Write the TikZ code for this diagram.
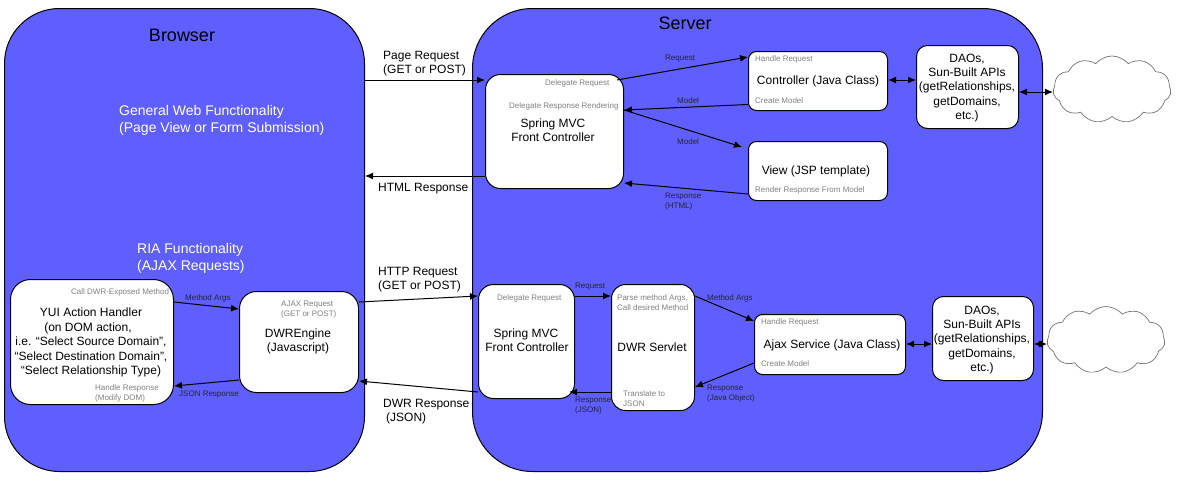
\documentclass[tikz,border=0pt]{standalone}
\usepackage{fontspec}
\setmainfont{Liberation Sans}
\usetikzlibrary{arrows.meta,shapes.symbols}
\definecolor{bluefill}{HTML}{5F5FFF}
\definecolor{notegray}{HTML}{808080}
\newcommand{\fs}[1]{\fontsize{#1}{#1}\selectfont}
\tikzset{
  x=1pt,y=-1pt,
  panel/.style={draw=black,line width=1pt,fill=bluefill,rounded corners=#1},
  boxw/.style={draw=black,line width=1pt,fill=white,rounded corners=#1},
  conn/.style={draw=black,line width=1pt,-{Latex[length=8pt,width=7pt]}},
  conn2/.style={draw=black,line width=1pt,{Latex[length=8pt,width=7pt]}-{Latex[length=8pt,width=7pt]}},
  title/.style={font=\fs{18},inner sep=0pt,text=black,text height=12.9pt,text depth=0pt},
  main/.style={font=\fs{12},inner sep=0pt,align=center,text=black,text height=8.6pt,text depth=0pt},
  whitetext/.style={font=\fs{14},inner sep=0pt,text=white,text height=10pt,text depth=0pt,anchor=west},
  note/.style={font=\fs{8},inner sep=0pt,text=notegray,text height=5.8pt,text depth=0pt,anchor=west},
  lab/.style={font=\fs{8},inner sep=0pt,text=black!85,text height=5.8pt,text depth=0pt,anchor=west},
  big/.style={font=\fs{12},inner sep=0pt,text=black,text height=8.6pt,text depth=0pt,anchor=west},
  cloudy/.style={cloud,cloud puffs=11,cloud puff arc=100,aspect=1.75,draw=black!55,line width=0.7pt,fill=white,inner sep=0pt},
}
\newcommand{\bx}[6]{\node[boxw=#6,minimum width=#4-#2,minimum height=#5-#3,inner sep=0pt,anchor=north west] (#1) at (#2,#3) {};}
\begin{document}
\begin{tikzpicture}
\useasboundingbox (0,0) rectangle (1177,479);
\fill[white] (0,0) rectangle (1177,479);
% panels
\node[panel=55pt,minimum width=360,minimum height=463,inner sep=0pt,anchor=north west] (browser) at (4,8) {};
\node[panel=60pt,minimum width=570,minimum height=463,inner sep=0pt,anchor=north west] (server) at (472,8) {};
\node[title] (tbrowser) at (182,35) {Browser};
\node[title] (tserver) at (685,23) {Server};
% clouds
\node[cloudy,minimum width=118,minimum height=67] (cloud1) at (1112,89.5) {};
\node[cloudy,minimum width=118,minimum height=67] (cloud2) at (1106,340) {};
% boxes
\bx{fc}{485}{74}{623}{188}{15pt}
\bx{ctl}{748}{51}{887}{110}{8pt}
\bx{view}{748}{141}{887}{200}{8pt}
\bx{dao1}{916}{45}{1018}{128}{11pt}
\bx{yui}{10}{279}{173}{404}{20pt}
\bx{eng}{239}{291}{358}{392}{17pt}
\bx{fc2}{478}{284}{574}{398}{15pt}
\bx{srv}{611}{284}{694}{410}{14pt}
\bx{ajax}{754}{314}{905}{374}{8pt}
\bx{dao2}{932}{296}{1033}{380}{11pt}
% free-text headings
\node[whitetext] (h1) at (119,110) {General Web Functionality};
\node[whitetext] (h2) at (119,127) {(Page View or Form Submission)};
\node[whitetext] (h3) at (137,248) {RIA Functionality};
\node[whitetext] (h4) at (137,265) {(AJAX Requests)};
% box texts
\node[main] (tfc1) at (553,123) {Spring MVC};
\node[main] (tfc2) at (553,137) {Front Controller};
\node[main] (tctl) at (818,80) {Controller (Java Class)};
\node[main] (tview) at (816,170) {View (JSP template)};
\node[main] at (967,58) {DAOs,};
\node[main] at (967,72) {Sun-Built APIs};
\node[main] at (967,86) {(getRelationships,};
\node[main] at (967,101) {getDomains,};
\node[main] at (967,115) {etc.)};
\node[main] at (91,312) {YUI Action Handler};
\node[main] at (88,327) {(on DOM action,};
\node[main] at (91,341) {i.e. “Select Source Domain”,};
\node[main] at (91,356) {“Select Destination Domain”,};
\node[main] at (91,370) {“Select Relationship Type)};
\node[main] at (298,333) {DWREngine};
\node[main] at (298,347) {(Javascript)};
\node[main] at (526,333) {Spring MVC};
\node[main] at (527,347) {Front Controller};
\node[main] at (652,347) {DWR Servlet};
\node[main] at (832,344) {Ajax Service (Java Class)};
\node[main] at (982,310) {DAOs,};
\node[main] at (982,324) {Sun-Built APIs};
\node[main] at (982,338) {(getRelationships,};
\node[main] at (982,353) {getDomains,};
\node[main] at (982,367) {etc.)};
% grey notes
\node[note] at (545,83) {Delegate Request};
\node[note] at (509,106) {Delegate Response Rendering};
\node[note] at (755,59) {Handle Request};
\node[note] at (755,101) {Create Model};
\node[note] at (755,190) {Render Response From Model};
\node[note] at (71,292) {Call DWR-Exposed Method};
\node[note] at (95,388) {Handle Response};
\node[note] at (95,398) {(Modify DOM)};
\node[note] at (281,304) {AJAX Request};
\node[note] at (281,314) {(GET or POST)};
\node[note] at (497,298) {Delegate Request};
\node[note] at (617,298) {Parse method Args,};
\node[note] at (617,308) {Call desired Method};
\node[note] at (623,394) {Translate to};
\node[note] at (623,404) {JSON};
\node[note] at (761,322) {Handle Request};
\node[note] at (761,364) {Create Model};
% connectors
\draw[conn] (browser.east |- 0,80) -- (fc.west |- 0,80);
\node[big] at (383,55) {Page Request};
\node[big] at (383,69) {(GET or POST)};
\draw[conn] (fc.west |- 0,176) -- (browser.east |- 0,176);
\node[big] at (378,187) {HTML Response};
\draw[conn] (617,80) -- (ctl.west |- 0,57);
\draw[conn] (ctl.west |- 0,104.5) -- (fc.east |- 0,110);
\draw[conn] (fc.east |- 0,110) -- (742,147);
\draw[conn] (view.west |- 0,194) -- (fc.east |- 0,183);
\draw[conn2] (ctl.east |- 0,80) -- (dao1.west |- 0,80);
\draw[conn2] (dao1.east |- 0,92) -- (cloud1.west |- 0,92);
\node[lab] at (665,58) {Request};
\node[lab] at (677,101) {Model};
\node[lab] at (677,142) {Model};
\node[lab] at (665,196) {Response};
\node[lab] at (665,206) {(HTML)};
\draw[conn] (yui.east |- 0,302) -- (eng.west |- 0,309);
\draw[conn] (eng.west |- 0,380) -- (yui.east |- 0,386);
\node[lab] at (185,298) {Method Args};
\node[lab] at (179,394) {JSON Response};
\draw[conn] (eng.east |- 0,302) -- (fc2.west |- 0,296);
\draw[conn] (fc2.west |- 0,392) -- (eng.east |- 0,381);
\node[big] at (378,271) {HTTP Request};
\node[big] at (378,285) {(GET or POST)};
\node[big] at (383,403) {DWR Response};
\node[big] at (386,417) {(JSON)};
\draw[conn] (fc2.east |- 0,296) -- (srv.west |- 0,296);
\draw[conn] (srv.west |- 0,392) -- (569,392);
\node[lab] at (575,286) {Request};
\node[lab] at (575,400) {Response};
\node[lab] at (575,410) {(JSON)};
\draw[conn] (srv.east |- 0,296) -- (754,321);
\draw[conn] (ajax.west |- 0,363) -- (695,387);
\node[lab] at (707,298) {Method Args};
\node[lab] at (707,388) {Response};
\node[lab] at (707,398) {(Java Object)};
\draw[conn2] (ajax.east |- 0,344) -- (dao2.west |- 0,344);
\draw[conn2] (dao2.east |- 0,344) -- (cloud2.west |- 0,344);
\end{tikzpicture}
\end{document}
